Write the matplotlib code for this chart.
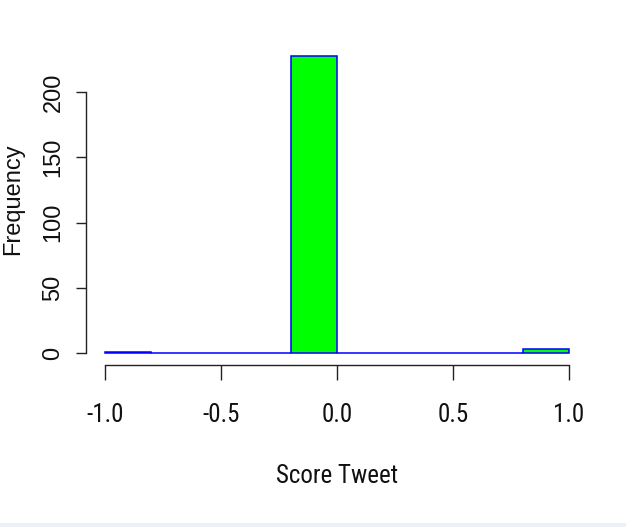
import matplotlib
matplotlib.use('Agg')
import matplotlib.pyplot as plt
from matplotlib import font_manager
from matplotlib.patches import Rectangle


def pick_font(names):
    for name in names:
        try:
            font_manager.findfont(name, fallback_to_default=False)
            return name
        except ValueError:
            continue
    return None


plain_font = pick_font(['Liberation Sans', 'Arial']) or 'DejaVu Sans'
# narrow face for the x axis texts; shrink the regular face if none is around
narrow_font = pick_font(['Liberation Sans Narrow', 'Arial Narrow',
                         'Roboto Condensed', 'Open Sans Condensed',
                         'DejaVu Sans Condensed'])
if narrow_font is None:
    narrow_font, x_size = plain_font, 15.5
else:
    x_size = 18

# sentiment score histogram (R hist style, breaks every 0.2)
bin_edges = [-1.0, -0.8, -0.6, -0.4, -0.2, 0.0, 0.2, 0.4, 0.6, 0.8, 1.0]
counts = [1, 0, 0, 0, 228, 0, 0, 0, 0, 3]
x_ticks = [-1.0, -0.5, 0.0, 0.5, 1.0]
y_ticks = [0, 50, 100, 150, 200]

fig = plt.figure(figsize=(6.26, 5.27), dpi=100)
ax = fig.add_axes([0.1374, 0.3066, 0.802, 0.6116])

lefts = bin_edges[:-1]
widths = [b - a for a, b in zip(bin_edges[:-1], bin_edges[1:])]
ax.bar(lefts, counts, width=widths, align='edge', color='#00ff00',
       edgecolor='#0000ff', linewidth=1.1)

ax.set_xlim(-1.082, 1.082)
ax.set_ylim(-9.5, 237.5)

for side in ['top', 'right']:
    ax.spines[side].set_visible(False)
ax.spines['left'].set_bounds(0, 200)
ax.spines['bottom'].set_bounds(-1, 1)
for side in ['left', 'bottom']:
    ax.spines[side].set_color('#222222')
    ax.spines[side].set_linewidth(1.0)

ax.set_xticks(x_ticks)
ax.set_xticklabels(['%.1f' % v for v in x_ticks], family=narrow_font,
                   fontsize=x_size, color='#111111')
ax.set_yticks(y_ticks)
ax.set_yticklabels([str(v) for v in y_ticks], family=plain_font,
                   fontsize=17, rotation=90, va='center', color='#111111')
ax.tick_params(axis='x', length=11, width=1.0, color='#222222', pad=16)
ax.tick_params(axis='y', length=7.5, width=1.0, color='#222222', pad=8)

fig.text(337 / 626, 1 - 476 / 527, 'Score Tweet', family=narrow_font,
         fontsize=x_size, ha='center', va='center', color='#111111')
fig.text(13 / 626, 1 - 199 / 527, 'Frequency', family=plain_font,
         fontsize=17, rotation=90, ha='center', va='center', color='#111111')

# thin pale strip along the bottom edge
fig.patches.append(Rectangle((0, 0), 1, 4 / 527, transform=fig.transFigure,
                             facecolor='#eef0f8', edgecolor='none'))

fig.savefig('out.png', dpi=100)
